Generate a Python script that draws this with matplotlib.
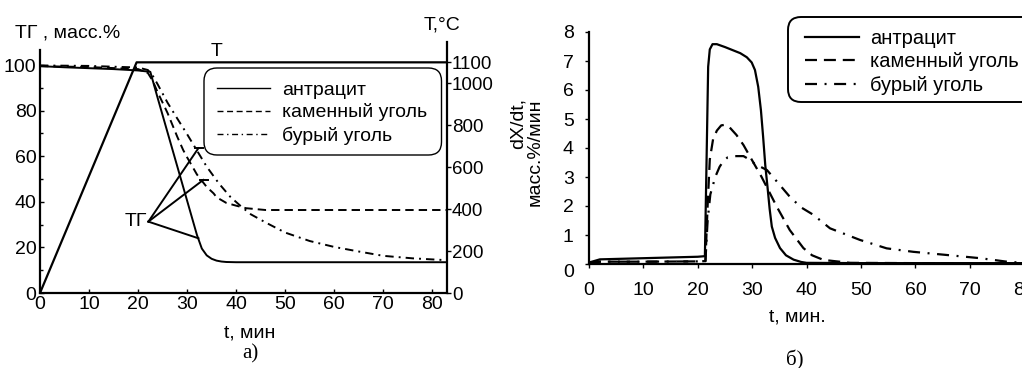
import matplotlib
matplotlib.use("Agg")
import matplotlib.pyplot as plt
from matplotlib.patches import FancyBboxPatch

plt.rcParams['font.family'] = ['Liberation Sans', 'DejaVu Sans']

# --- panel a): TG curves, mass %
t_ant = [0, 5, 10, 15, 20, 22.5, 24, 26, 28, 30, 32, 33, 34, 35, 36, 37, 38, 40, 50, 60, 70, 83]
tg_ant = [99.5, 99.0, 98.6, 98.2, 97.6, 97.0, 85.5, 70.5, 55.5, 40.5, 25.5, 19.5, 16.5, 15.0, 14.2, 13.8, 13.6, 13.5, 13.5, 13.5, 13.5, 13.5]

t_kam = [0, 10, 20, 22, 23, 24, 26, 28, 29.2, 30, 32, 34, 35.4, 36, 38, 40, 42, 46, 83]
tg_kam = [99.5, 99.1, 98.2, 96.5, 93.0, 88.0, 79.0, 68.5, 62.7, 59.5, 52.0, 46.5, 43.7, 42.0, 39.5, 38.3, 37.2, 36.4, 36.4]

t_bur = [0, 10, 20, 22, 23.1, 24, 26, 28, 29.9, 32, 34, 36.5, 38.8, 41, 43, 46.3, 50, 55, 60, 65, 70, 76, 82]
tg_bur = [99.8, 99.6, 98.9, 97.8, 94.9, 91.5, 83.5, 76.5, 70.0, 62.5, 55.4, 48.0, 42.2, 38.0, 34.5, 30.6, 26.5, 22.8, 20.2, 18.2, 16.3, 15.2, 14.5]

# temperature programme, deg C
t_T = [0, 19.7, 83]
temp_T = [0, 1100, 1100]

# --- panel б): dX/dt, mass %/min
t_d_ant = [0, 2, 10, 20, 21.3, 21.6, 21.9, 22.2, 22.7, 23.5, 25, 27.8, 29.0, 29.9, 30.5, 31.1, 31.6, 32.0,
           32.4, 32.8, 33.2, 33.6, 34.2, 35.1, 36.2, 37.6, 39, 40, 50, 60, 70, 80.5]
d_ant = [0.05, 0.16, 0.2, 0.25, 0.27, 3.5, 6.8, 7.4, 7.58, 7.58, 7.48, 7.27, 7.13, 6.95, 6.69, 6.11, 5.3, 4.39,
         3.4, 2.67, 1.9, 1.29, 0.9, 0.55, 0.3, 0.15, 0.07, 0.04, 0.03, 0.03, 0.03, 0.03]

t_d_kam = [0, 2, 10, 20, 21.4, 21.8, 22.2, 22.8, 23.5, 24.3, 25, 25.8, 27.1, 28.4, 29.6, 31.7, 34.5, 36.9,
           39.4, 41.0, 43.1, 48, 60, 80.5]
d_kam = [0.03, 0.08, 0.08, 0.09, 0.1, 2.0, 3.6, 4.3, 4.6, 4.78, 4.8, 4.72, 4.45, 4.1, 3.7, 3.01, 1.98, 1.17,
         0.55, 0.3, 0.14, 0.04, 0.03, 0.03]

t_d_bur = [0, 2, 10, 20, 21.4, 21.8, 22.3, 23.2, 24.0, 24.7, 25.5, 26.5, 28.4, 29.5, 30.5, 32.7, 34.5, 36.9,
           39, 41.2, 44.3, 49.8, 54.7, 59.6, 65.8, 71.9, 76.8, 80.5]
d_bur = [0.03, 0.08, 0.08, 0.09, 0.1, 1.5, 2.4, 3.0, 3.35, 3.55, 3.68, 3.72, 3.72, 3.6, 3.45, 3.24, 2.85, 2.32,
         1.95, 1.7, 1.23, 0.83, 0.54, 0.42, 0.31, 0.2, 0.08, 0.03]

labels = ['антрацит', 'каменный уголь', 'бурый уголь']

# annotation "ТГ": label point and the ends of the pointer lines
tg_label_pt = (22.1, 31.3)
tg_pointer_ends = [(32.3, 63.5), (33.3, 49.6), (32.3, 24.0)]

W, H = 1022, 368


def fx(px):
    return px / W


def fy(py):
    return 1 - py / H


fig = plt.figure(figsize=(10.22, 3.68), dpi=100)


def legend_frame(x0, y0, x1, y1, lw):
    # rounded frame drawn in inches so the corners stay round
    box = FancyBboxPatch((x0 / 100, (H - y1) / 100), (x1 - x0) / 100, (y1 - y0) / 100,
                         boxstyle='round,pad=0,rounding_size=0.13', transform=fig.dpi_scale_trans,
                         fc='white', ec='k', lw=lw, zorder=5)
    fig.patches.append(box)


# ---------------- panel a)
ax1 = fig.add_axes([fx(40), fy(293), 407 / W, 250.8 / H])
lw = 1.4
ax1.plot(t_ant, tg_ant, color='k', lw=lw, label=labels[0])
ax1.plot(t_kam, tg_kam, color='k', lw=lw, ls=(0, (4.3, 2.6)), label=labels[1])
ax1.plot(t_bur, tg_bur, color='k', lw=lw, ls=(0, (4.3, 2.6, 1, 2.6)), label=labels[2])

ax1.set_xlim(0, 83)
ax1.set_ylim(0, 110)
ax1.set_xticks(range(0, 81, 10))
ax1.set_yticks(range(0, 101, 20))
ax1.set_yticks(range(10, 100, 20), minor=True)
ax1.spines['top'].set_visible(False)
ax1.spines['right'].set_visible(False)
ax1.spines['left'].set_bounds(0, 106.5)
for s in ('left', 'bottom'):
    ax1.spines[s].set_linewidth(1.6)
ax1.tick_params(axis='both', direction='in', length=3, width=1, labelsize=14, pad=2.5)
ax1.tick_params(axis='y', which='minor', direction='in', length=2, width=1)

# pointer lines for the "ТГ" label
for (xe, ye) in tg_pointer_ends:
    ax1.plot([tg_label_pt[0], xe], [tg_label_pt[1], ye], color='k', lw=1.4)
for (xe, ye) in tg_pointer_ends[:2]:
    ax1.plot([xe - 0.7, xe + 0.9], [ye, ye], color='k', lw=1.4)
ax1.text(tg_label_pt[0] - 0.3, tg_label_pt[1], 'ТГ', fontsize=14, ha='right', va='center')

# temperature axis
ax1t = ax1.twinx()
ax1t.plot(t_T, temp_T, color='k', lw=1.6)
ax1t.set_ylim(0, 1196)
ax1t.set_yticks([0, 200, 400, 600, 800, 1000, 1100])
for s in ('left', 'top', 'bottom'):
    ax1t.spines[s].set_visible(False)
ax1t.spines['right'].set_linewidth(1.6)
ax1t.tick_params(axis='y', direction='out', length=3, width=1, labelsize=13.5, pad=0.5)
ax1t.text(36, 1112, 'Т', fontsize=14, ha='center', va='bottom')

legend_frame(204, 68, 441.5, 155, 1.0)
h1, _ = ax1.get_legend_handles_labels()
leg1 = fig.legend(h1, labels, loc='upper left', bbox_to_anchor=(fx(217), fy(81)),
                  fontsize=14, frameon=False, handlelength=2.75, handletextpad=0.58,
                  labelspacing=0.25, borderpad=0, borderaxespad=0)
leg1.set_zorder(6)
for ln in leg1.get_lines():
    ln.set_linewidth(1.0)

fig.text(fx(15), fy(33), 'ТГ , масс.%', fontsize=14, ha='left', va='center')
fig.text(fx(442), fy(25), 'Т,°C', fontsize=14, ha='center', va='center')
fig.text(fx(250), fy(333), 't, мин', fontsize=14, ha='center', va='center')
fig.text(fx(250), fy(354), 'а)', fontsize=15, ha='center', va='center',
         family=['Liberation Serif', 'DejaVu Serif'])

# ---------------- panel б)
ax2 = fig.add_axes([fx(589), fy(264), 438 / W, 232 / H])
lw2 = 1.6
ax2.plot(t_d_ant, d_ant, color='k', lw=lw2, label=labels[0])
ax2.plot(t_d_kam, d_kam, color='k', lw=lw2, ls=(0, (5.4, 3.1)), label=labels[1])
ax2.plot(t_d_bur, d_bur, color='k', lw=lw2, ls=(0, (5.4, 3.4, 0.9, 3.4)), label=labels[2])
ax2.set_xlim(0, 80.5)
ax2.set_ylim(0, 8)
ax2.set_xticks(range(0, 81, 10))
ax2.set_yticks(range(0, 9))
ax2.spines['top'].set_visible(False)
ax2.spines['right'].set_visible(False)
for s in ('left', 'bottom'):
    ax2.spines[s].set_linewidth(1.6)
ax2.tick_params(axis='x', direction='out', length=3, width=1, labelsize=14, pad=10)
ax2.tick_params(axis='y', direction='out', length=3, width=1, labelsize=14, pad=8)
ax2.get_yticklabels()[0].set_verticalalignment('top')

legend_frame(788, 17, 1040, 102, 1.4)
h2, _ = ax2.get_legend_handles_labels()
leg2 = fig.legend(h2, labels, loc='upper left', bbox_to_anchor=(fx(805), fy(29)),
                  fontsize=14.5, frameon=False, handlelength=2.7, handletextpad=0.55,
                  labelspacing=0.22, borderpad=0, borderaxespad=0)
leg2.set_zorder(6)

fig.text(fx(527), fy(152), 'dX/dt,\nмасс.%/мин', fontsize=14, rotation=90,
         ha='center', va='center', multialignment='right', linespacing=1.0)
fig.text(fx(797), fy(317), 't, мин.', fontsize=14, ha='center', va='center')
fig.text(fx(795), fy(360), 'б)', fontsize=15, ha='center', va='center',
         family=['Liberation Serif', 'DejaVu Serif'])

fig.savefig('out.png', dpi=100)
